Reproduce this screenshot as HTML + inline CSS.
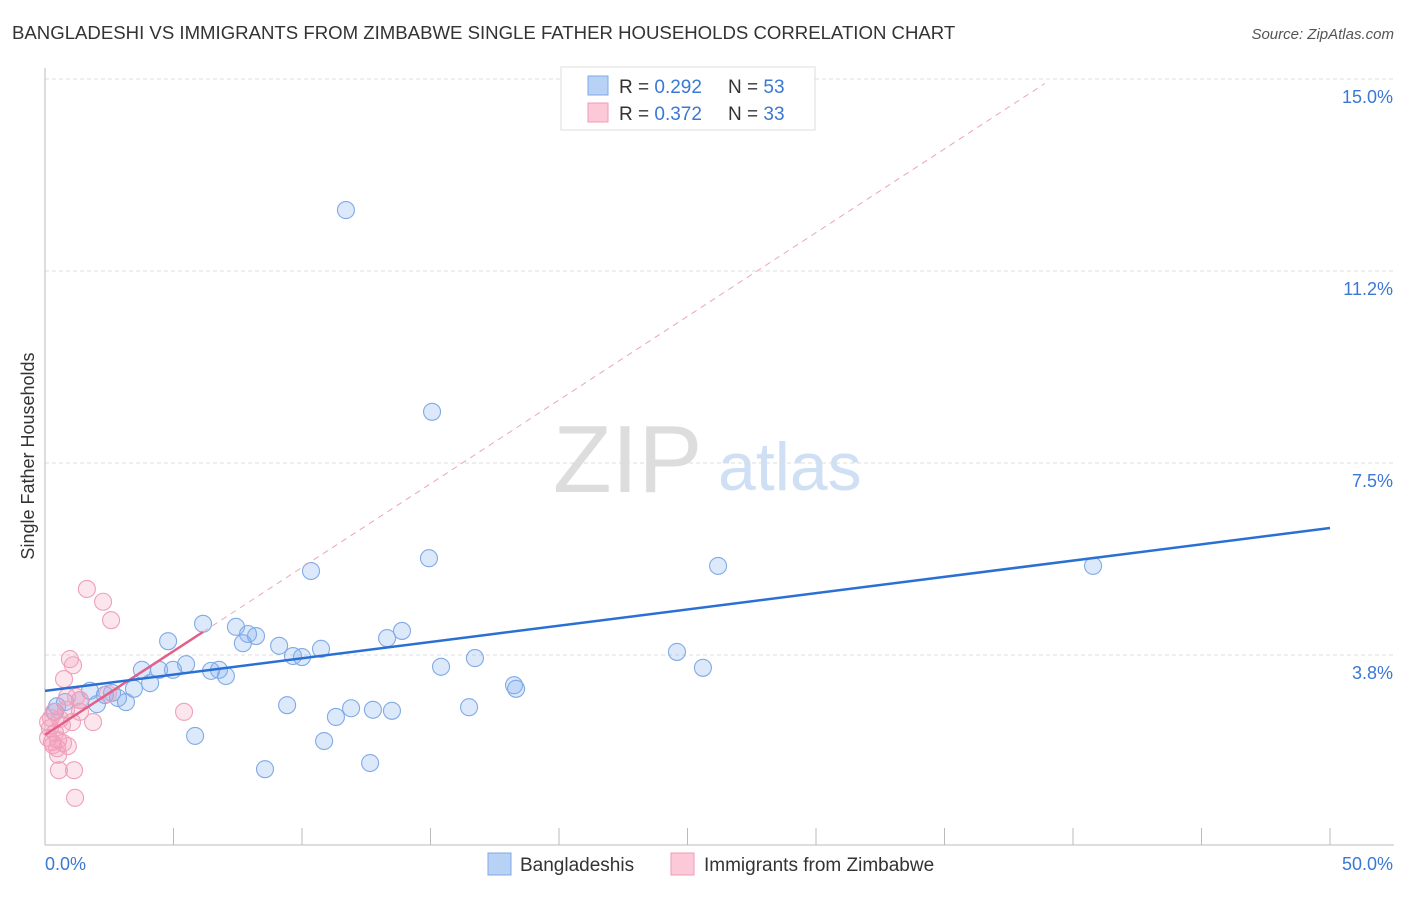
<!DOCTYPE html>
<html><head><meta charset="utf-8"><style>
body{margin:0;background:#fff;font-family:"Liberation Sans",sans-serif;}
svg text{font-family:"Liberation Sans",sans-serif;}
</style></head><body>
<svg id="chart" width="1406" height="892" xmlns="http://www.w3.org/2000/svg">
<text x="12" y="39" font-size="18.6" fill="#333">BANGLADESHI VS IMMIGRANTS FROM ZIMBABWE SINGLE FATHER HOUSEHOLDS CORRELATION CHART</text>
<text x="1394" y="39" font-size="15" fill="#555" text-anchor="end" font-style="italic">Source: ZipAtlas.com</text>
<g>
<text x="553" y="492" font-size="96" fill="#ddd" font-family="Liberation Serif,serif">ZIP</text>
<text x="718" y="490" font-size="68" fill="#cfe0f5">atlas</text>
</g>
<g id="grid"></g>
<g id="axes"></g>
<g id="marks"></g>
<text transform="translate(34,456) rotate(-90)" font-size="18" fill="#333" text-anchor="middle">Single Father Households</text>
<g>
<rect x="561" y="67" width="254" height="63" fill="#fff" stroke="#ddd"/>
<rect x="588" y="76" width="20" height="19" fill="#b7d2f5" stroke="#7fa9e6"/>
<text x="619" y="93" font-size="19" fill="#333">R = <tspan fill="#3a78d4">0.292</tspan></text>
<text x="728" y="93" font-size="19" fill="#333">N = <tspan fill="#3a78d4">53</tspan></text>
<rect x="588" y="103" width="20" height="19" fill="#fbc9d8" stroke="#f09ab5"/>
<text x="619" y="120" font-size="19" fill="#333">R = <tspan fill="#3a78d4">0.372</tspan></text>
<text x="728" y="120" font-size="19" fill="#333">N = <tspan fill="#3a78d4">33</tspan></text>
</g>
<g>
<rect x="488" y="853" width="23" height="22" fill="#b7d2f5" stroke="#7fa9e6"/>
<text x="520" y="871" font-size="19" fill="#333">Bangladeshis</text>
<rect x="671" y="853" width="23" height="22" fill="#fbc9d8" stroke="#f09ab5"/>
<text x="704" y="871" font-size="19" fill="#333">Immigrants from Zimbabwe</text>
</g>
</svg>
<script>
const yTicks=[3.75,7.5,11.25,15];
const yTickLabels=["3.8%","7.5%","11.2%","15.0%"];
const xTicks=[0,5,10,15,20,25,30,35,40,45,50];
const blueX=[11.71,15.06,14.94,10.35,26.19,40.78,6.15,7.43,7.90,8.21,4.79,7.70,9.11,10.74,13.31,13.89,9.65,10.00,16.73,24.59,15.41,25.60,5.49,4.44,3.77,4.98,6.46,6.77,7.04,4.09,3.46,1.75,2.84,2.33,3.15,0.78,0.47,2.02,9.42,11.91,12.76,13.50,16.50,18.25,18.33,11.32,5.84,10.86,8.56,12.65,0.39,1.36,2.61];
const blueY=[12.44,8.50,5.64,5.39,5.49,5.49,4.36,4.30,4.16,4.12,4.02,3.98,3.93,3.87,4.08,4.22,3.73,3.71,3.69,3.81,3.52,3.50,3.57,3.46,3.46,3.46,3.44,3.46,3.34,3.20,3.09,3.05,2.91,2.97,2.83,2.83,2.75,2.79,2.77,2.71,2.68,2.66,2.73,3.16,3.09,2.54,2.17,2.07,1.52,1.64,2.64,2.87,3.01];
const pinkX=[1.63,2.26,2.57,0.97,1.09,0.74,0.86,1.21,1.36,2.45,5.41,0.35,0.58,1.87,1.05,0.23,0.19,0.39,0.12,0.51,0.70,0.89,0.47,0.27,0.54,1.13,1.17,0.51,1.36,0.82,0.66,0.31,0.12];
const pinkY=[5.04,4.79,4.43,3.67,3.55,3.28,2.93,2.93,2.87,2.99,2.64,2.64,2.50,2.44,2.44,2.52,2.32,2.23,2.13,2.09,2.03,1.97,1.93,2.05,1.50,1.50,0.96,1.80,2.64,2.68,2.38,1.99,2.44];
const blueTrend=[3.05,0.0636];
const pinkTrend=[2.19,0.327];
const pinkSolidEnd=6.15;
const pinkDashEnd=38.9;

const X0=45,X1=1330,Y0=847,PX_PER_Y=51.2;
const sx=v=>X0+(X1-X0)*v/50;
const sy=v=>Y0-PX_PER_Y*v;
const NS="http://www.w3.org/2000/svg";
function mk(tag,attrs,parent){const e=document.createElementNS(NS,tag);for(const k in attrs)e.setAttribute(k,attrs[k]);parent.appendChild(e);return e;}
const grid=document.getElementById('grid'),axes=document.getElementById('axes'),marks=document.getElementById('marks');
yTicks.forEach((t,i)=>{
 const l=mk('line',{x1:45,x2:1394,y1:sy(t),y2:sy(t),stroke:'#ddd','stroke-dasharray':'4,3'},grid);
 
 
 const tx=mk('text',{x:1393,y:sy(t)+24,'font-size':18,fill:'#3a78d4','text-anchor':'end'},axes);
 tx.textContent=yTickLabels[i];
 
 
});
const ax=mk('line',{x1:45,x2:1394,y1:845,y2:845,stroke:'#bbb'},axes);


const ay=mk('line',{x1:45,x2:45,y1:68,y2:845,stroke:'#bbb'},axes);


xTicks.forEach(t=>{
 const l=mk('line',{x1:sx(t),x2:sx(t),y1:828,y2:845,stroke:'#bbb'},axes);
 
 
});
const xl0=mk('text',{x:45,y:870,'font-size':18,fill:'#3a78d4'},axes);xl0.textContent='0.0%';


const xl1=mk('text',{x:1393,y:870,'font-size':18,fill:'#3a78d4','text-anchor':'end'},axes);xl1.textContent='50.0%';



blueX.forEach((x,i)=>{
 const c=mk('circle',{cx:sx(x),cy:sy(blueY[i]),r:8.5,fill:'rgba(130,175,240,0.28)',stroke:'#80aae6','stroke-width':1.1},marks);
 
 
});
pinkX.forEach((x,i)=>{
 const c=mk('circle',{cx:sx(x),cy:sy(pinkY[i]),r:8.5,fill:'rgba(245,160,190,0.26)',stroke:'#f0a0b8','stroke-width':1.1},marks);
 
 
});
const pd=mk('line',{x1:sx(pinkSolidEnd),y1:sy(pinkTrend[0]+pinkTrend[1]*pinkSolidEnd),x2:sx(pinkDashEnd),y2:sy(pinkTrend[0]+pinkTrend[1]*pinkDashEnd),stroke:'#eba5bb','stroke-width':1,'stroke-dasharray':'6,5'},marks);


const ps=mk('line',{x1:sx(0),y1:sy(pinkTrend[0]),x2:sx(pinkSolidEnd),y2:sy(pinkTrend[0]+pinkTrend[1]*pinkSolidEnd),stroke:'#e0608a','stroke-width':2.5},marks);


const bt=mk('line',{x1:sx(0),y1:sy(blueTrend[0]),x2:sx(50),y2:sy(blueTrend[0]+blueTrend[1]*50),stroke:'#2a70d4','stroke-width':2.5},marks);


</script>
</body></html>
